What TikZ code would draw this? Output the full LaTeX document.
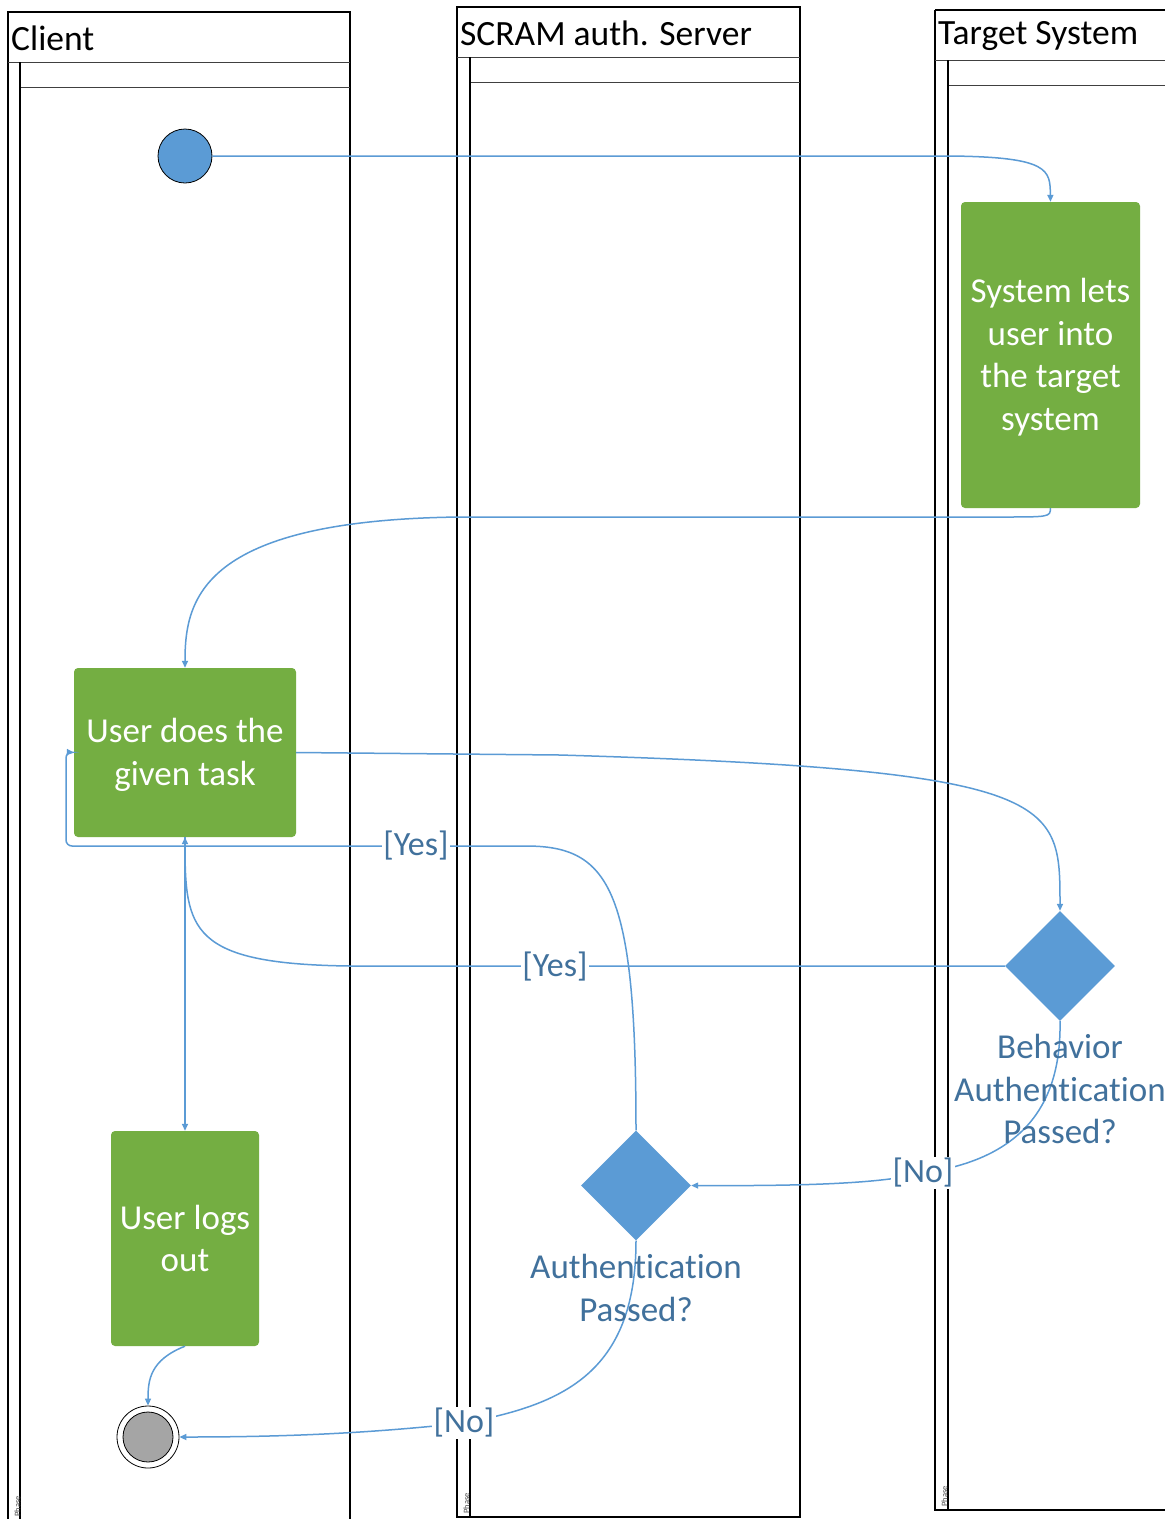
\documentclass[tikz,border=0pt]{standalone}
\usepackage{fontspec}
\setmainfont[Ligatures=NoCommon]{Carlito}
\usetikzlibrary{arrows.meta,shapes.geometric}
\definecolor{flow}{HTML}{5B9BD5}
\definecolor{actgreen}{HTML}{74AE42}
\definecolor{lbl}{HTML}{41719C}
\definecolor{endgray}{HTML}{A5A5A5}
\tikzset{
  lane/.style={draw=black,line width=1.1pt},
  lanesub/.style={draw=black!75,line width=0.9pt},
  lanetitle/.style={anchor=west,inner sep=0pt,font=\fontsize{35.5}{42}\selectfont},
  phaselbl/.style={rotate=90,anchor=west,inner sep=0pt,font=\fontsize{8.5}{9}\selectfont,text=black!70},
  action/.style={rectangle,rounded corners=4pt,fill=actgreen,text=white,inner sep=0pt,align=center,
    font=\fontsize{35}{42.5}\selectfont},
  decision/.style={diamond,fill=flow,inner sep=0pt,minimum width=110pt,minimum height=110pt},
  declbl/.style={text=lbl,align=center,inner sep=0pt,font=\fontsize{35}{42.5}\selectfont},
  guard/.style={text=lbl,fill=white,inner sep=1.5pt,font=\fontsize{34}{40}\selectfont},
  flowline/.style={draw=flow,line width=1.5pt,-{Triangle[length=7pt,width=6pt]}},
}
\begin{document}
\begin{tikzpicture}[x=1pt,y=-1pt]
\useasboundingbox (0,0) rectangle (1165,1519);
\clip (0,0) rectangle (1165,1519);
\fill[white] (0,0) rectangle (1165,1519);
% Client lane
\draw[lane] (8,12) rectangle (350,1530);
\draw[lanesub] (8,62) -- (350,62);
\draw[lanesub] (20,87) -- (350,87);
\draw[lane] (20,62) -- (20,1530);
\node[lanetitle] (tclient) at (11,38) {Client};
\node[phaselbl] (pclient) at (17.5,1517) {Phase};
% Server lane
\draw[lane] (457,7) rectangle (800,1517);
\draw[lanesub] (457,57) -- (800,57);
\draw[lanesub] (470,82) -- (800,82);
\draw[lane] (470,57) -- (470,1517);
\node[lanetitle] (tserver) at (460,33) {SCRAM auth. Server};
\node[phaselbl] (pserver) at (466.5,1514) {Phase};
% Target lane
\draw[lane] (935,10) -- (1175,10) (935,10) -- (935,1510) -- (1175,1510);
\draw[lanesub] (935,60) -- (1175,60);
\draw[lanesub] (948,85) -- (1175,85);
\draw[lane] (948,60) -- (948,1510);
\node[lanetitle] (ttarget) at (938,36) {Target System};
\node[phaselbl] (ptarget) at (944.5,1507) {Phase};

% Nodes
\node[circle,draw=black,line width=0.8pt,fill=flow,minimum size=54pt,inner sep=0pt] (start) at (185,156) {};
\node[action,minimum width=179pt,minimum height=306pt] (sys) at (1050.5,355) {\rule{0pt}{29pt}System lets\\user into\\the target\\system};
\node[action,minimum width=222pt,minimum height=169pt] (task) at (185,752.5) {\rule{0pt}{29pt}User does the\\given task};
\node[action,minimum width=148pt,minimum height=215pt] (logout) at (185,1238.5) {User logs\\out};
\node[decision] (d1) at (1060,966) {};
\node[decision] (d2) at (636,1185.5) {};
\node[circle,draw=black,line width=0.8pt,fill=white,minimum size=62pt,inner sep=0pt] (endc) at (148,1437) {};
\node[circle,draw=black,line width=0.8pt,fill=endgray,minimum size=50pt,inner sep=0pt] (endin) at (148,1437) {};

% Connectors
\draw[flowline] (start.east) -- (950,156) .. controls (1050,157) and (1050,170) .. (sys.north);
\draw[flowline] (sys.south) .. controls (1050,517) .. (1000,517) -- (460,517)
   .. controls (200,520) and (185,600) .. (task.north);
\draw[flowline] (task.east) -- (560,755) .. controls (1060,770) and (1060,800) .. (d1.north);
\draw[flowline] (d1.west) -- (350,966) .. controls (190,964) and (185,930) .. (task.south);
\coordinate (no1) at (923,1173);
\draw[flowline] (d1.south) .. controls (1062,1125) and (1000,1162) .. (no1) .. controls (880,1184) and (800,1186) .. (d2.east);
\coordinate (yes2) at (416,846);
\draw[flowline,rounded corners=6pt] (d2.north) .. controls (636,890) and (610,846) .. (520,846) -- (66,846) -- (66,752) -- (task.west);
\coordinate (no2) at (464,1423);
\draw[flowline] (d2.south) .. controls (636,1375) and (560,1405) .. (no2) .. controls (380,1432) and (300,1437) .. (endc.east);
\draw[flowline] (task.south) -- (logout.north);
\draw[flowline] (logout.south) .. controls (150,1360) and (148,1380) .. (endc.north);

% Labels
\node[guard] (yeslbl1) at (555,967) {[Yes]};
\node[guard] (yeslbl2) at (yes2) {[Yes]};
\node[guard] (nolbl1) at (no1) {[No]};
\node[guard] (nolbl2) at (no2) {[No]};
\node[declbl] (d1lbl) at (1060,1089) {Behavior\\Authentication\\Passed?};
\node[declbl] (d2lbl) at (636,1288) {Authentication\\Passed?};
\end{tikzpicture}
\end{document}
